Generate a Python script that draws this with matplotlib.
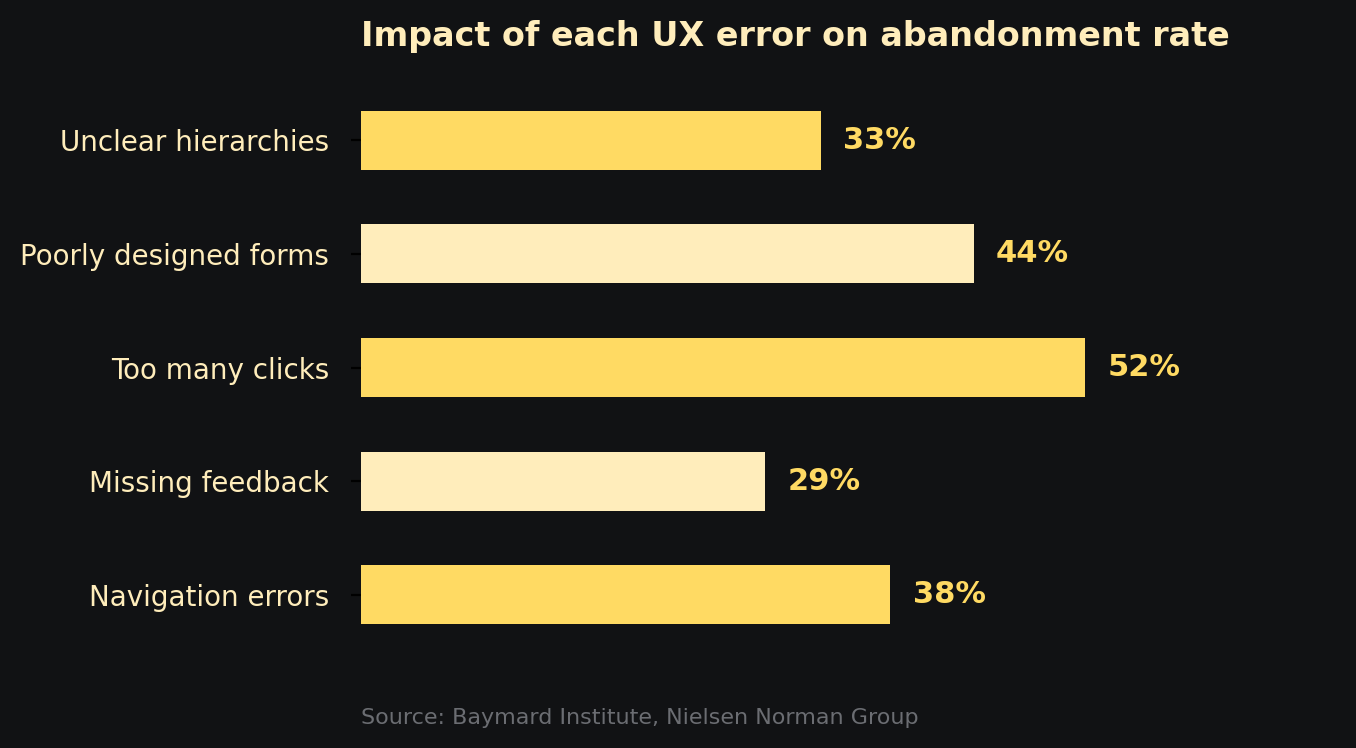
import numpy as np
import matplotlib
matplotlib.use('Agg')
import matplotlib.pyplot as plt

plt.rcParams['font.family'] = 'DejaVu Sans'

categories = ['Unclear hierarchies', 'Poorly designed forms', 'Too many clicks',
              'Missing feedback', 'Navigation errors']
values = [33, 44, 52, 29, 38]

bg = '#111214'
yellow = '#FFDA63'
cream = '#FFEDBB'
colors = [yellow, cream, yellow, cream, yellow]

fig = plt.figure(figsize=(6.78, 3.74), dpi=200, facecolor=bg)
ax = fig.add_axes([0.2662, 0.131, 0.719, 0.7553])
ax.set_facecolor(bg)

y = np.arange(len(categories))
ax.barh(y, values, height=0.52, color=colors)
ax.set_yticks(y)
ax.set_yticklabels(categories, color=cream, fontsize=10)
ax.tick_params(axis='y', colors='black', labelcolor=cream, pad=8)
ax.invert_yaxis()
ax.set_xlim(0, 70)
ax.set_xticks([])
for s in ax.spines.values():
    s.set_visible(False)

# value labels right of the bars
for i, v in enumerate(values):
    ax.text(v + 1.6, i, f'{v}%', va='center', ha='left', color=yellow,
            fontsize=11, fontweight='bold')

ax.set_title('Impact of each UX error on abandonment rate', loc='left',
             color=cream, fontsize=12, fontweight='bold', pad=14)

fig.text(361 / 1356, 1 - 724 / 748, 'Source: Baymard Institute, Nielsen Norman Group',
         color='#6b6d72', fontsize=8, ha='left', va='baseline')

fig.savefig('out.png', dpi=200, facecolor=bg)
